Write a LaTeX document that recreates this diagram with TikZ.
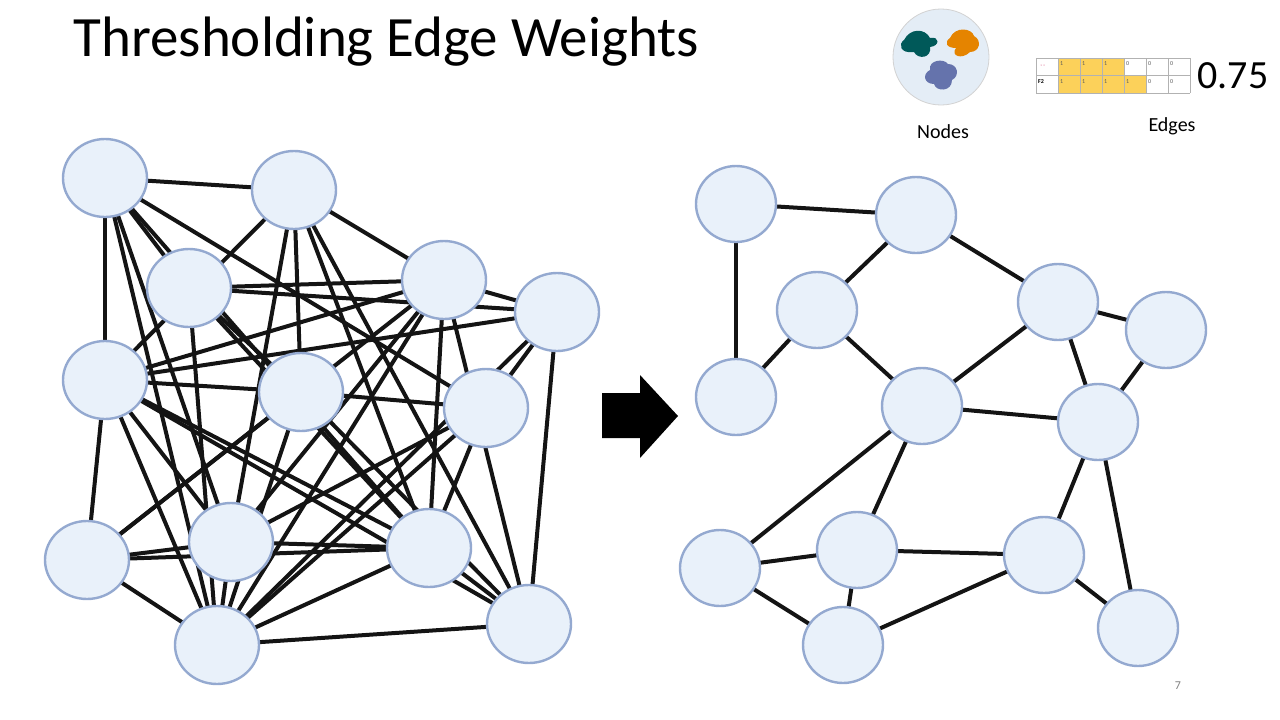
\documentclass[tikz,border=0pt]{standalone}
\usepackage{fontspec}
\usetikzlibrary{shapes.geometric}
\setmainfont{Carlito}
\definecolor{nfill}{HTML}{E9F1FA}
\definecolor{ndraw}{HTML}{94A9D0}
\definecolor{tabfill}{HTML}{FCD15A}
\definecolor{iconfill}{HTML}{E4EDF6}
\begin{document}
\begin{tikzpicture}[x=1pt,y=-1pt,
  nd/.style={ellipse,minimum width=84pt,minimum height=78pt,fill=nfill,draw=ndraw,line width=2.4pt,inner sep=0pt},
  ed/.style={line width=4pt,black!92}]
\useasboundingbox (0,0) rectangle (1280,720);
\node[anchor=west,font=\fontsize{57}{64}\selectfont] (title) at (70,42) {Thresholding Edge Weights};
% left graph
\foreach \n/\x/\y in {A/105/178,B/294/190,C/189/288,D/444/280,E/557/312,F/105/380,G/301/392,H/486/408,I/87/560,J/231/542,K/429/548,L/217/645,M/529/624}
  \coordinate (p\n) at (\x,\y);
\foreach \a/\b in {A/B,A/C,A/F,A/H,A/J,A/L,A/K,B/D,B/G,B/F,B/J,B/M,B/K,C/D,C/E,C/G,C/L,C/K,D/E,D/F,D/I,D/L,D/K,D/M,D/J,E/F,E/H,E/L,E/M,F/G,F/K,F/M,F/I,F/L,F/J,G/H,G/I,G/L,G/M,H/J,H/L,H/K,I/J,I/K,I/L,J/K,J/L,K/L,K/M,L/M}
  \draw[ed] (p\a) -- (p\b);
\foreach \n in {A,B,C,D,E,F,G,H,I,J,K,L,M}
  \node[nd] (n\n) at (p\n) {};
% arrow
\fill[black] (602,393) -- (640,393) -- (640,375) -- (678,416) -- (640,458) -- (640,438) -- (602,438) -- cycle;
% right graph
\foreach \n/\x/\y in {a/736/204,b/916/215,c/817/310,d/1058/302,e/1166/330,f/736/397,g/922/406,h/1098/422,i/720/568,j/857/550,k/1044/555,l/843/645,m/1138/628}
  \coordinate (q\n) at (\x,\y);
\foreach \a/\b in {a/b,a/f,b/c,b/d,c/f,c/g,d/g,d/e,d/h,e/h,g/h,g/i,g/j,h/k,h/m,i/j,i/l,j/k,j/l,l/k,k/m}
  \draw[ed] (q\a) -- (q\b);
\foreach \n in {a,b,c,d,e,f,g,h,i,j,k,l,m}
  \node[nd,minimum width=80pt,minimum height=76pt] (r\n) at (q\n) {};
% nodes icon
\node[circle,minimum size=96pt,fill=iconfill,draw=gray!35,line width=0.8pt] (icon) at (941,57) {};
\fill[teal!70!black] (904,40) .. controls (910,28) and (925,28) .. (930,38) .. controls (940,36) and (940,46) .. (930,47) .. controls (932,58) and (918,60) .. (914,52) .. controls (900,54) and (898,44) .. cycle;
\fill[orange!85!yellow!90!black] (950,38) .. controls (955,26) and (972,28) .. (974,36) .. controls (982,40) and (980,52) .. (970,52) .. controls (962,60) and (950,56) .. (956,48) .. controls (946,48) and (944,42) .. cycle;
\fill[ndraw!85!blue!80!black] (930,70) .. controls (928,60) and (944,58) .. (948,64) .. controls (958,64) and (960,76) .. (952,80) .. controls (952,92) and (936,92) .. (934,84) .. controls (924,84) and (922,74) .. cycle;
\node[font=\fontsize{20}{24}\selectfont] (nodes) at (943,132) {Nodes};
% edges table
\fill[tabfill] (1058,58) rectangle (1124,75);
\fill[tabfill] (1058,75) rectangle (1146,93);
\foreach \i in {0,...,7} \draw[gray!60,line width=0.5pt] (1036+\i*22,58) -- (1036+\i*22,93);
\foreach \j in {58,75,93} \draw[gray!60,line width=0.5pt] (1036,\j) -- (1190,\j);
\foreach \i/\t in {1/1,2/1,3/1,4/0,5/0,6/0} \node[font=\fontsize{6}{7}\selectfont,text=gray!70!black,anchor=west,inner sep=1pt] at (1037+\i*22,64) {\t};
\foreach \i/\t in {1/1,2/1,3/1,4/1,5/0,6/0} \node[font=\fontsize{6}{7}\selectfont,text=gray!70!black,anchor=west,inner sep=1pt] at (1037+\i*22,82) {\t};
\node[font=\fontsize{6}{7}\selectfont\bfseries,anchor=west,inner sep=1pt] at (1037,82) {F2};
\node[font=\tiny,text=purple!60,anchor=west,inner sep=1pt] at (1039,66) {\scalebox{0.7}{$\ast\ast$}};
\node[font=\fontsize{40}{46}\selectfont,anchor=west] (val) at (1194,76) {0.75};
\node[font=\fontsize{20}{24}\selectfont] (edges) at (1172,126) {Edges};
\node[font=\fontsize{12}{14}\selectfont,text=gray] (pg) at (1178,686) {7};
\end{tikzpicture}
\end{document}
